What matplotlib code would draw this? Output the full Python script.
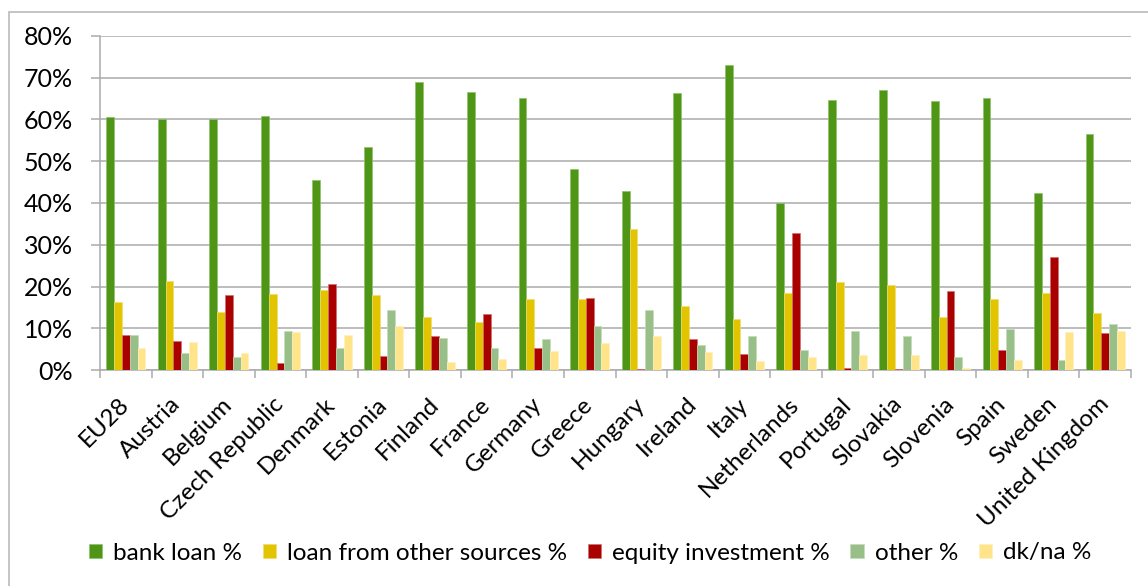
import numpy as np
import matplotlib
matplotlib.use("Agg")
import matplotlib.pyplot as plt
from matplotlib.patches import Rectangle
from matplotlib.ticker import FuncFormatter

plt.rcParams['font.family'] = ['Lato', 'DejaVu Sans']

countries = ["EU28", "Austria", "Belgium", "Czech Republic", "Denmark", "Estonia",
             "Finland", "France", "Germany", "Greece", "Hungary", "Ireland", "Italy",
             "Netherlands", "Portugal", "Slovakia", "Slovenia", "Spain", "Sweden",
             "United Kingdom"]

bank_loan = [60.6, 60.2, 60.0, 60.9, 45.5, 53.3, 68.9, 66.5, 65.0, 48.2,
             42.8, 66.4, 73.1, 40.1, 64.7, 67.1, 64.3, 65.2, 42.4, 56.6]
loan_other = [16.3, 21.4, 13.9, 18.3, 19.2, 18.1, 12.7, 11.5, 17.0, 17.0,
              33.7, 15.3, 12.2, 18.4, 21.2, 20.3, 12.7, 17.1, 18.4, 13.6]
equity = [8.5, 7.0, 18.1, 1.75, 20.7, 3.4, 8.2, 13.4, 5.3, 17.2,
          0.2, 7.6, 3.8, 32.8, 0.6, 0.2, 18.9, 4.9, 27.1, 8.8]
other = [8.5, 4.1, 3.2, 9.5, 5.4, 14.3, 7.7, 5.4, 7.6, 10.5,
         14.4, 6.0, 8.2, 4.9, 9.3, 8.1, 3.1, 9.9, 2.4, 11.0]
dkna = [5.3, 6.7, 4.1, 9.1, 8.4, 10.5, 2.0, 2.6, 4.7, 6.5,
        8.1, 4.3, 2.2, 3.1, 3.7, 3.7, 0.5, 2.4, 9.1, 9.3]

series_names = ["bank loan %", "loan from other sources %", "equity investment %",
                "other %", "dk/na %"]
series = [bank_loan, loan_other, equity, other, dkna]
colors = ["#4F9616", "#E2C400", "#A90000", "#98BF88", "#FFE48A"]
edges = ["#8CC06A", "#F0DD70", "#D07070", "#C4DCB8", "#FFF0C0"]

fig = plt.figure(figsize=(11.48, 5.86), dpi=100)
ax = fig.add_axes([100 / 1148, 1 - 370.3 / 586, 1031 / 1148, (370.3 - 35.7) / 586])

# outer chart border
fig.patches.append(Rectangle((8.5 / 1148, -0.1), 1.2, 1 - 11.5 / 586 + 0.1,
                             transform=fig.transFigure, fill=False,
                             edgecolor="#B4B4B4", linewidth=1.1))

n = len(countries)
x = np.arange(n)
w = 0.152
for i, (vals, name) in enumerate(zip(series, series_names)):
    ax.bar(x + (i - 2) * w, vals, w, color=colors[i], edgecolor=edges[i],
           linewidth=0.5, label=name, zorder=3)

ax.set_xlim(-0.5, n - 0.5)
ax.set_ylim(0, 80)
ax.set_yticks(np.arange(0, 81, 10))
ax.yaxis.set_major_formatter(FuncFormatter(lambda v, p: f"{int(v)}%"))
ax.yaxis.grid(True, color="#ABABAB", linewidth=1.1, zorder=0)
ax.set_axisbelow(True)

ax.set_xticks(x)
ax.set_xticklabels(countries, rotation=45, ha="right", va="center",
                   rotation_mode="anchor")
ax.set_xticks(np.arange(-0.5, n, 1), minor=True)
ax.tick_params(axis="x", which="major", length=0, pad=22, labelsize=17.5)
ax.tick_params(axis="x", which="minor", length=6, width=1.1, color="#ABABAB",
               direction="out")
ax.tick_params(axis="y", length=6.5, width=1.1, color="#ABABAB", pad=13,
               labelsize=18)

for s in ["top", "right"]:
    ax.spines[s].set_visible(False)
for s in ["left", "bottom"]:
    ax.spines[s].set_color("#ABABAB")
    ax.spines[s].set_linewidth(1.1)

fig.legend(loc="center", bbox_to_anchor=(590 / 1148, 1 - 553 / 586), ncol=5,
           frameon=False, fontsize=17.5, handlelength=0.55, handleheight=0.55,
           handletextpad=0.45, columnspacing=0.85, borderaxespad=0)

fig.savefig("out.png", dpi=100)
